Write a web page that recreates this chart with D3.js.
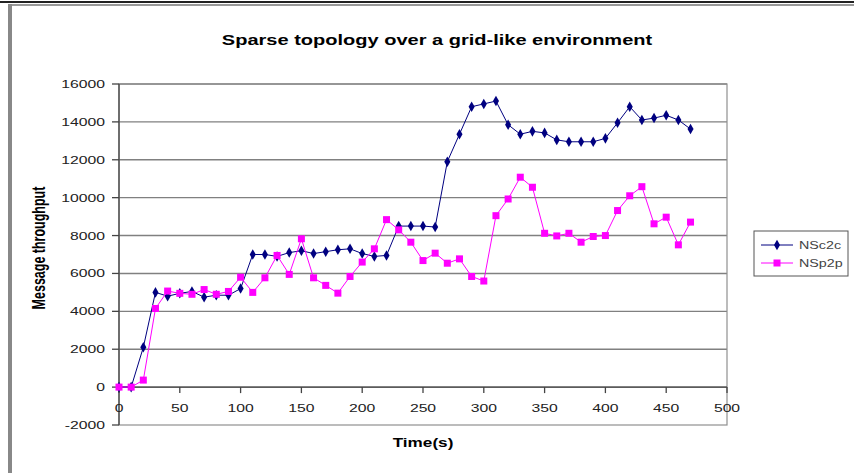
<!DOCTYPE html>
<html>
<head>
<meta charset="utf-8">
<script src="https://cdn.jsdelivr.net/npm/d3@7"></script>
<style>
  body { margin: 0; background: #fff; }
  svg { display: block; font-family: Arial, "Liberation Sans", sans-serif; }
</style>
</head>
<body>
<div class="chart"></div>
<script>
// data (one sample every 10 s)
const times = [0, 10, 20, 30, 40, 50, 60, 70, 80, 90, 100, 110, 120, 130, 140, 150,
    160, 170, 180, 190, 200, 210, 220, 230, 240, 250, 260, 270, 280, 290, 300, 310,
    320, 330, 340, 350, 360, 370, 380, 390, 400, 410, 420, 430, 440, 450, 460, 470];
const nsc2c = [0, 0, 2100, 5000, 4800, 4950, 5050, 4750, 4850, 4850, 5200, 7000, 7000, 6900, 7100, 7200,
    7050, 7150, 7250, 7300, 7050, 6900, 6950, 8500, 8500, 8500, 8450, 11900, 13350, 14800, 14950, 15100,
    13850, 13350, 13500, 13420, 13050, 12950, 12950, 12950, 13130, 13950, 14800, 14100, 14200, 14350, 14100, 13620];
const nsp2p = [0, 0, 370, 4150, 5070, 4950, 4900, 5150, 4900, 5050, 5800, 5000, 5770, 6950, 5950, 7830,
    5770, 5370, 4960, 5840, 6600, 7300, 8840, 8300, 7650, 6680, 7070, 6540, 6770, 5840, 5600, 9050,
    9930, 11080, 10550, 8120, 7980, 8120, 7650, 7950, 8000, 9320, 10100, 10580, 8620, 8970, 7510, 8710];
const seriesNames = ["NSc2c", "NSp2p"];
const xTicks = [0, 50, 100, 150, 200, 250, 300, 350, 400, 450, 500];
const yTicks = [-2000, 0, 2000, 4000, 6000, 8000, 10000, 12000, 14000, 16000];

const width = 854;
const height = 473;
const stretch = 1.43; // the picture's text is drawn wide

const svg = d3.select(".chart")
    .append("svg")
    .attr("width", width)
    .attr("height", height);

// text helper, widened horizontally like the original
function label(g, txt, x, y, size, anchor, bold, fill) {
    return g.append("text")
        .attr("transform", `translate(${x},${y}) scale(${stretch},1)`)
        .attr("text-anchor", anchor)
        .attr("font-size", size)
        .attr("font-weight", bold ? "bold" : "normal")
        .attr("fill", fill || "#111")
        .text(txt);
}

// outer frame (top and left edge of the cropped chart)
svg.append("rect").attr("x", 0).attr("y", 1).attr("width", width).attr("height", 2).attr("fill", "#222");
svg.append("rect").attr("x", 8).attr("y", 4).attr("width", width - 8).attr("height", 2).attr("fill", "#999");
svg.append("rect").attr("x", 8).attr("y", 4).attr("width", 4).attr("height", height).attr("fill", "#888");

label(svg, "Sparse topology over a grid-like environment", 437, 45, 14, "middle", true, "#000");

const x = d3.scaleLinear().domain([0, 500]).range([119, 727]);
const y = d3.scaleLinear().domain([-2000, 16000]).range([425, 84]);

// plot area grid + border
const grid = svg.append("g");
grid.selectAll("line")
    .data(yTicks.filter(d => d > -2000))
    .join("line")
    .attr("x1", x(0)).attr("x2", x(500))
    .attr("y1", d => y(d)).attr("y2", d => y(d))
    .attr("stroke", "#808080")
    .attr("stroke-width", 1.4);
grid.append("rect")
    .attr("x", x(0)).attr("y", y(16000))
    .attr("width", x(500) - x(0)).attr("height", y(-2000) - y(16000))
    .attr("fill", "none")
    .attr("stroke", "#909090")
    .attr("stroke-width", 1.2);

// y axis
const yAxis = svg.append("g");
yAxis.append("line")
    .attr("x1", x(0)).attr("x2", x(0))
    .attr("y1", y(16000)).attr("y2", y(-2000))
    .attr("stroke", "#444").attr("stroke-width", 1.3);
yAxis.selectAll("line.tick")
    .data(yTicks)
    .join("line")
    .attr("class", "tick")
    .attr("x1", x(0) - 7).attr("x2", x(0))
    .attr("y1", d => y(d)).attr("y2", d => y(d))
    .attr("stroke", "#444").attr("stroke-width", 1.3);
yTicks.forEach(d => label(yAxis, d, 105, y(d) + 4, 11, "end", false, "#222"));

// x axis crosses at 0
const xAxis = svg.append("g");
xAxis.append("line")
    .attr("x1", x(0)).attr("x2", x(500))
    .attr("y1", y(0)).attr("y2", y(0))
    .attr("stroke", "#444").attr("stroke-width", 1.3);
xAxis.selectAll("line.tick")
    .data(xTicks)
    .join("line")
    .attr("class", "tick")
    .attr("x1", d => x(d)).attr("x2", d => x(d))
    .attr("y1", y(0)).attr("y2", y(0) + 6)
    .attr("stroke", "#444").attr("stroke-width", 1.3);
xTicks.forEach(d => label(xAxis, d, x(d), y(0) + 25, 11, "middle", false, "#222"));

label(svg, "Time(s)", 423, 447, 12, "middle", true, "#000");
svg.append("text")
    .attr("transform", `translate(45,248) rotate(-90) scale(1,${stretch})`)
    .attr("text-anchor", "middle")
    .attr("font-size", 12.5)
    .attr("font-weight", "bold")
    .text("Message throughput");

// series
const line = d3.line()
    .x((d, i) => x(times[i]))
    .y(d => y(d));

const diamond = d3.symbol().type(d3.symbolDiamond).size(32);

svg.append("path")
    .attr("d", line(nsc2c))
    .attr("fill", "none")
    .attr("stroke", "#000080")
    .attr("stroke-width", 1);
svg.append("g").selectAll("path")
    .data(nsc2c)
    .join("path")
    .attr("d", diamond)
    .attr("transform", (d, i) => `translate(${x(times[i])},${y(d)})`)
    .attr("fill", "#000080");

svg.append("path")
    .attr("d", line(nsp2p))
    .attr("fill", "none")
    .attr("stroke", "#ff00ff")
    .attr("stroke-width", 1);
svg.append("g").selectAll("rect")
    .data(nsp2p)
    .join("rect")
    .attr("x", (d, i) => x(times[i]) - 3.5)
    .attr("y", d => y(d) - 3.5)
    .attr("width", 7).attr("height", 7)
    .attr("fill", "#ff00ff");

// legend
const legend = svg.append("g");
legend.append("rect")
    .attr("x", 754).attr("y", 231)
    .attr("width", 94).attr("height", 45)
    .attr("fill", "#fff")
    .attr("stroke", "#555")
    .attr("stroke-width", 1);
const legendColors = ["#000080", "#ff00ff"];
seriesNames.forEach((name, i) => {
    const ly = 245 + i * 18;
    legend.append("line")
        .attr("x1", 761).attr("x2", 793)
        .attr("y1", ly).attr("y2", ly)
        .attr("stroke", legendColors[i]).attr("stroke-width", 1);
    if (i === 0) {
        legend.append("path").attr("d", diamond).attr("transform", `translate(777,${ly})`).attr("fill", legendColors[i]);
    } else {
        legend.append("rect").attr("x", 773.5).attr("y", ly - 3.5).attr("width", 7).attr("height", 7).attr("fill", legendColors[i]);
    }
    label(legend, name, 799, ly + 4, 10, "start", false, "#444");
});
</script>
</body>
</html>
